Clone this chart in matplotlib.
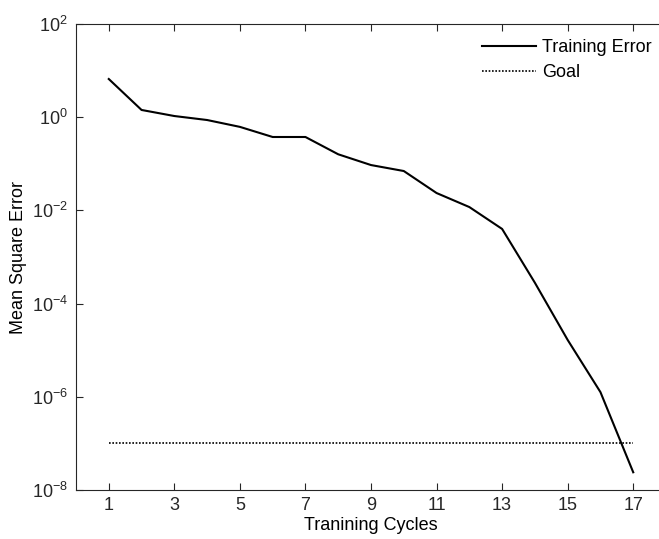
import numpy as np
import matplotlib.pyplot as plt

plt.rcParams['font.family'] = ['Liberation Sans', 'DejaVu Sans']
plt.rcParams['mathtext.fontset'] = 'custom'
plt.rcParams['mathtext.rm'] = 'Liberation Sans'
plt.rcParams['mathtext.it'] = 'Liberation Sans'

cycles = [1, 2, 3, 4, 5, 6, 7, 8, 9, 10, 11, 12, 13, 14, 15, 16, 17]
mse = [6.6, 1.43, 1.06, 0.87, 0.62, 0.376, 0.376, 0.16, 0.094, 0.07,
       0.0236, 0.0118, 0.004, 2.8e-4, 1.66e-5, 1.26e-6, 2.4e-8]
goal_x = [1, 17]
goal = [1e-7, 1e-7]
xticks = [1, 3, 5, 7, 9, 11, 13, 15, 17]

fig = plt.figure(figsize=(6.59, 5.39), dpi=100)
ax = fig.add_axes([76/659, 49/539, 590/659, 466/539])

ax.plot(cycles, mse, color='black', lw=1.5, label='Training Error')
ax.plot(goal_x, goal, color='black', lw=1.2, ls=(0, (1, 1)), label='Goal')

ax.set_yscale('log')
ax.set_ylim(1e-8, 1e2)
ax.set_xlim(0, 18)
ax.set_xticks(xticks)
ax.set_yticks([1e-8, 1e-6, 1e-4, 1e-2, 1e0, 1e2])
ax.minorticks_off()
ax.tick_params(direction='in', length=5, width=0.8, labelsize=13,
               top=True, right=False, colors='#262626', pad=6)
ax.tick_params(axis='x', pad=5)
for s in ax.spines.values():
    s.set_color('#262626')
    s.set_linewidth(0.8)
# right edge of the box falls outside the picture
ax.spines['right'].set_visible(False)

ax.set_xlabel('Tranining Cycles', fontsize=13, labelpad=2)
ax.set_ylabel('Mean Square Error', fontsize=13, labelpad=3)

ax.legend(loc='upper left', bbox_to_anchor=(482/659, 1 - 39/539),
          bbox_transform=fig.transFigure, frameon=False, fontsize=13,
          borderpad=0, borderaxespad=0, handlelength=3.0,
          handletextpad=0.35, labelspacing=0.45)

fig.savefig('out.png', dpi=100)
